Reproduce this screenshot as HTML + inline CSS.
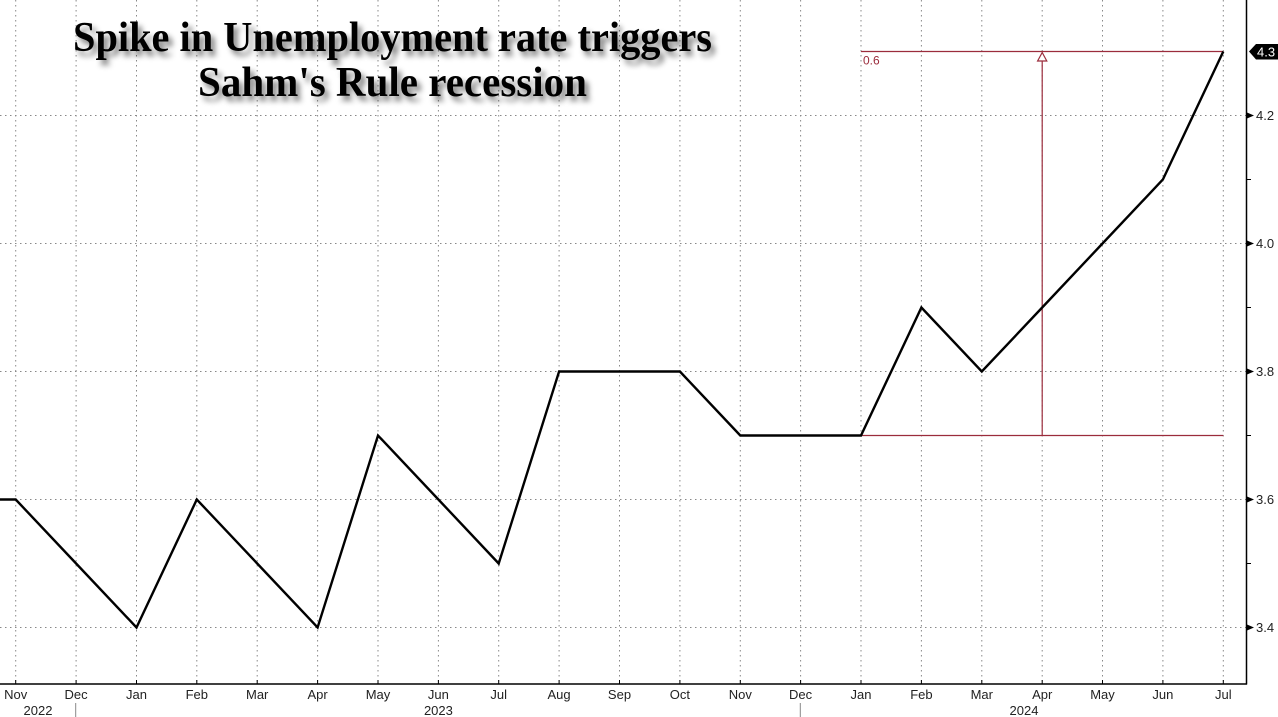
<!DOCTYPE html>
<html>
<head>
<meta charset="utf-8">
<style>
  html,body{margin:0;padding:0;background:#fff;}
  svg{display:block;}
  .lbl{font-family:"Liberation Sans",Arial,sans-serif;font-size:13px;fill:#222;}
</style>
</head>
<body>
<svg width="1278" height="717" viewBox="0 0 1278 717" xmlns="http://www.w3.org/2000/svg">
  <defs>
    <filter id="sh" x="-10%" y="-30%" width="120%" height="170%">
      <feGaussianBlur in="SourceAlpha" stdDeviation="3"/>
      <feOffset dx="4" dy="5" result="b"/>
      <feComponentTransfer><feFuncA type="linear" slope="0.5"/></feComponentTransfer>
      <feMerge><feMergeNode/><feMergeNode in="SourceGraphic"/></feMerge>
    </filter>
  </defs>
  <rect width="1278" height="717" fill="#fff"/>

  <!-- vertical grid -->
  <g stroke="#888" stroke-width="1" stroke-dasharray="1.5,3.5">
    <line x1="15.7" y1="0" x2="15.7" y2="684"/>
    <line x1="76.1" y1="0" x2="76.1" y2="684"/>
    <line x1="136.5" y1="0" x2="136.5" y2="684"/>
    <line x1="196.8" y1="0" x2="196.8" y2="684"/>
    <line x1="257.2" y1="0" x2="257.2" y2="684"/>
    <line x1="317.6" y1="0" x2="317.6" y2="684"/>
    <line x1="378.0" y1="0" x2="378.0" y2="684"/>
    <line x1="438.4" y1="0" x2="438.4" y2="684"/>
    <line x1="498.7" y1="0" x2="498.7" y2="684"/>
    <line x1="559.1" y1="0" x2="559.1" y2="684"/>
    <line x1="619.5" y1="0" x2="619.5" y2="684"/>
    <line x1="679.9" y1="0" x2="679.9" y2="684"/>
    <line x1="740.3" y1="0" x2="740.3" y2="684"/>
    <line x1="800.6" y1="0" x2="800.6" y2="684"/>
    <line x1="861.0" y1="0" x2="861.0" y2="684"/>
    <line x1="921.4" y1="0" x2="921.4" y2="684"/>
    <line x1="981.8" y1="0" x2="981.8" y2="684"/>
    <line x1="1042.2" y1="0" x2="1042.2" y2="684"/>
    <line x1="1102.5" y1="0" x2="1102.5" y2="684"/>
    <line x1="1162.9" y1="0" x2="1162.9" y2="684"/>
    <line x1="1223.3" y1="0" x2="1223.3" y2="684"/>
  </g>
  <!-- horizontal grid -->
  <g stroke="#888" stroke-width="1" stroke-dasharray="1.5,3.5">
    <line x1="0" y1="115.5" x2="1246" y2="115.5"/>
    <line x1="0" y1="243.5" x2="1246" y2="243.5"/>
    <line x1="0" y1="371.5" x2="1246" y2="371.5"/>
    <line x1="0" y1="499.5" x2="1246" y2="499.5"/>
    <line x1="0" y1="627.5" x2="1246" y2="627.5"/>
  </g>

  <!-- title -->
  <g filter="url(#sh)" font-family="'Liberation Serif','Times New Roman',serif" font-weight="bold" fill="#000">
    <text x="73" y="51" font-size="42" textLength="639" lengthAdjust="spacingAndGlyphs">Spike in Unemployment rate triggers</text>
    <text x="198" y="96" font-size="42" textLength="389" lengthAdjust="spacingAndGlyphs">Sahm's Rule recession</text>
  </g>

  <!-- red annotation -->
  <g stroke="#9b2c3c" stroke-width="1.2" fill="none">
    <line x1="861" y1="51.5" x2="1223.3" y2="51.5"/>
    <line x1="861" y1="435.5" x2="1223.3" y2="435.5"/>
    <line x1="1042.2" y1="61" x2="1042.2" y2="435.5"/>
    <polygon points="1042.2,52.5 1037.6,61 1046.8,61" fill="#fff"/>
  </g>
  <text x="863" y="64.5" font-family="'Liberation Sans',Arial,sans-serif" font-size="12" fill="#9b2c3c">0.6</text>

  <!-- series -->
  <polyline fill="none" stroke="#000" stroke-width="2.4" stroke-linejoin="miter"
    points="0,499.5 15.7,499.5 76.1,563.5 136.5,627.5 196.8,499.5 257.2,563.5 317.6,627.5 378.0,435.5 438.4,499.5 498.7,563.5 559.1,371.5 619.5,371.5 679.9,371.5 740.3,435.5 800.6,435.5 861.0,435.5 921.4,307.5 981.8,371.5 1042.2,307.5 1102.5,243.5 1162.9,179.5 1223.3,51.5"/>

  <!-- axes -->
  <line x1="1246.5" y1="0" x2="1246.5" y2="684.5" stroke="#000" stroke-width="1.5"/>
  <line x1="0" y1="684" x2="1247" y2="684" stroke="#000" stroke-width="1.5"/>

  <!-- x ticks -->
  <g stroke="#000" stroke-width="1">
    <line x1="15.7" y1="680" x2="15.7" y2="684"/>
    <line x1="76.1" y1="680" x2="76.1" y2="684"/>
    <line x1="136.5" y1="680" x2="136.5" y2="684"/>
    <line x1="196.8" y1="680" x2="196.8" y2="684"/>
    <line x1="257.2" y1="680" x2="257.2" y2="684"/>
    <line x1="317.6" y1="680" x2="317.6" y2="684"/>
    <line x1="378.0" y1="680" x2="378.0" y2="684"/>
    <line x1="438.4" y1="680" x2="438.4" y2="684"/>
    <line x1="498.7" y1="680" x2="498.7" y2="684"/>
    <line x1="559.1" y1="680" x2="559.1" y2="684"/>
    <line x1="619.5" y1="680" x2="619.5" y2="684"/>
    <line x1="679.9" y1="680" x2="679.9" y2="684"/>
    <line x1="740.3" y1="680" x2="740.3" y2="684"/>
    <line x1="800.6" y1="680" x2="800.6" y2="684"/>
    <line x1="861.0" y1="680" x2="861.0" y2="684"/>
    <line x1="921.4" y1="680" x2="921.4" y2="684"/>
    <line x1="981.8" y1="680" x2="981.8" y2="684"/>
    <line x1="1042.2" y1="680" x2="1042.2" y2="684"/>
    <line x1="1102.5" y1="680" x2="1102.5" y2="684"/>
    <line x1="1162.9" y1="680" x2="1162.9" y2="684"/>
    <line x1="1223.3" y1="680" x2="1223.3" y2="684"/>
  </g>
  <!-- year separators -->
  <g stroke="#888" stroke-width="1">
    <line x1="75.7" y1="703" x2="75.7" y2="717"/>
    <line x1="800.3" y1="703" x2="800.3" y2="717"/>
  </g>

  <!-- month labels -->
  <g class="lbl" text-anchor="middle">
    <text x="15.7" y="699">Nov</text>
    <text x="76.1" y="699">Dec</text>
    <text x="136.5" y="699">Jan</text>
    <text x="196.8" y="699">Feb</text>
    <text x="257.2" y="699">Mar</text>
    <text x="317.6" y="699">Apr</text>
    <text x="378.0" y="699">May</text>
    <text x="438.4" y="699">Jun</text>
    <text x="498.7" y="699">Jul</text>
    <text x="559.1" y="699">Aug</text>
    <text x="619.5" y="699">Sep</text>
    <text x="679.9" y="699">Oct</text>
    <text x="740.3" y="699">Nov</text>
    <text x="800.6" y="699">Dec</text>
    <text x="861.0" y="699">Jan</text>
    <text x="921.4" y="699">Feb</text>
    <text x="981.8" y="699">Mar</text>
    <text x="1042.2" y="699">Apr</text>
    <text x="1102.5" y="699">May</text>
    <text x="1162.9" y="699">Jun</text>
    <text x="1223.3" y="699">Jul</text>
    <text x="38" y="715">2022</text>
    <text x="438.4" y="715">2023</text>
    <text x="1024" y="715">2024</text>
  </g>

  <!-- y ticks (arrows) -->
  <g fill="#000">
    <polygon points="1247,112.5 1254,115.5 1247,118.5"/>
    <polygon points="1247,240.5 1254,243.5 1247,246.5"/>
    <polygon points="1247,368.5 1254,371.5 1247,374.5"/>
    <polygon points="1247,496.5 1254,499.5 1247,502.5"/>
    <polygon points="1247,624.5 1254,627.5 1247,630.5"/>
  </g>
  <g stroke="#000" stroke-width="1">
    <line x1="1247" y1="179.5" x2="1251" y2="179.5"/>
    <line x1="1247" y1="307.5" x2="1251" y2="307.5"/>
    <line x1="1247" y1="435.5" x2="1251" y2="435.5"/>
    <line x1="1247" y1="563.5" x2="1251" y2="563.5"/>
  </g>
  <g class="lbl">
    <text x="1256" y="120">4.2</text>
    <text x="1256" y="248">4.0</text>
    <text x="1256" y="376">3.8</text>
    <text x="1256" y="504">3.6</text>
    <text x="1256" y="632">3.4</text>
  </g>

  <!-- current value tag -->
  <polygon points="1249,51.5 1256,44 1278,44 1278,59.5 1256,59.5" fill="#000"/>
  <text x="1257" y="56.5" font-family="'Liberation Sans',Arial,sans-serif" font-size="13" fill="#fff">4.3</text>
</svg>
</body>
</html>
